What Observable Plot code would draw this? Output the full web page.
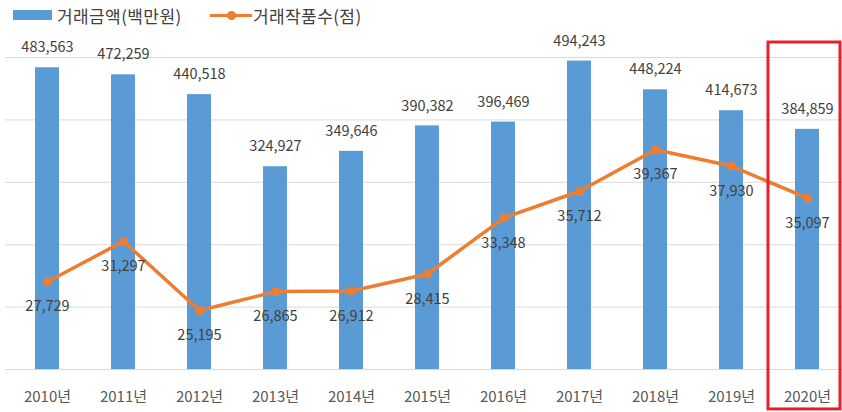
<!DOCTYPE html>
<html>
<head>
<meta charset="utf-8">
<script src="https://cdn.jsdelivr.net/npm/d3@7"></script>
<script src="https://cdn.jsdelivr.net/npm/@observablehq/plot@0.6"></script>
<style>
  html, body { margin: 0; padding: 0; background: #fff; }
  body { width: 842px; height: 412px; overflow: hidden; font-family: "Noto Sans CJK KR", "Noto Sans", sans-serif; }
  #legend { height: 30px; position: relative; font-size: 17px; letter-spacing: 0.4px; color: #404040; }
  .item { position: absolute; top: 3px; display: flex; align-items: center; height: 24px; }
  .sw-bar { width: 39px; height: 10px; background: #5b9bd5; margin-right: 5px; }
  .sw-line { width: 42px; height: 3px; background: #ed7d31; margin-right: 1px; position: relative; }
  .sw-line::after { content: ""; position: absolute; left: 17px; top: -3px; width: 9px; height: 9px; border-radius: 50%; background: #ed7d31; }
  svg { display: block; }
</style>
</head>
<body>
<div id="legend">
  <div class="item" style="left:13px"><div class="sw-bar"></div><span>거래금액(백만원)</span></div>
  <div class="item" style="left:210px"><div class="sw-line"></div><span>거래작품수(점)</span></div>
</div>
<div id="chart"></div>
<script>
const years = ["2010년","2011년","2012년","2013년","2014년","2015년","2016년","2017년","2018년","2019년","2020년"];
const amounts = [483563, 472259, 440518, 324927, 349646, 390382, 396469, 494243, 448224, 414673, 384859];
const counts = [27729, 31297, 25195, 26865, 26912, 28415, 33348, 35712, 39367, 37930, 35097];
const gridTicks = [0, 100000, 200000, 300000, 400000, 500000];
const highlightYear = "2020년";

// secondary (count) axis mapped onto the primary scale: 20,000 at baseline, 47,500 at top
const secMin = 20000, secMax = 47500, primMax = 500000;
const toPrimary = v => (v - secMin) * primMax / (secMax - secMin);

const data = years.map((y, i) => ({year: y, amount: amounts[i], count: counts[i], cy: toPrimary(counts[i])}));
const fmt = d3.format(",");

const plot = Plot.plot({
  width: 842,
  height: 382,
  marginTop: 27,
  marginBottom: 43,
  marginLeft: 5,
  marginRight: 0,
  style: {fontFamily: '"Noto Sans CJK KR", "Noto Sans", sans-serif', background: "#fff", overflow: "visible"},
  x: {domain: years, range: [7, 846], paddingInner: 0.69, paddingOuter: 0.345, align: 0.5, label: null},
  y: {domain: [0, primMax], axis: null},
  marks: [
    Plot.ruleY(gridTicks, {stroke: "#d9d9d9", strokeWidth: 1}),
    Plot.barY(data, {x: "year", y: "amount", fill: "#5b9bd5"}),
    Plot.text(data, {x: "year", y: "amount", text: d => fmt(d.amount), dy: -20, fontSize: 14.5, fill: "#404040"}),
    Plot.line(data, {x: "year", y: "cy", stroke: "#ed7d31", strokeWidth: 3.5}),
    Plot.dot(data, {x: "year", y: "cy", r: 4.5, fill: "#ed7d31", stroke: "none"}),
    Plot.text(data, {x: "year", y: "cy", text: d => fmt(d.count), dy: 25, fontSize: 14.5, fill: "#404040"}),
    Plot.axisX({tickSize: 0, tickPadding: 22, fontSize: 15, color: "#595959", label: null}),
    Plot.rect([highlightYear], {x: d => d, y1: -64000, y2: 524000, fill: "none", stroke: "#e3202b", strokeWidth: 3, insetLeft: -27, insetRight: -21})
  ]
});
document.getElementById("chart").appendChild(plot);
</script>
</body>
</html>
